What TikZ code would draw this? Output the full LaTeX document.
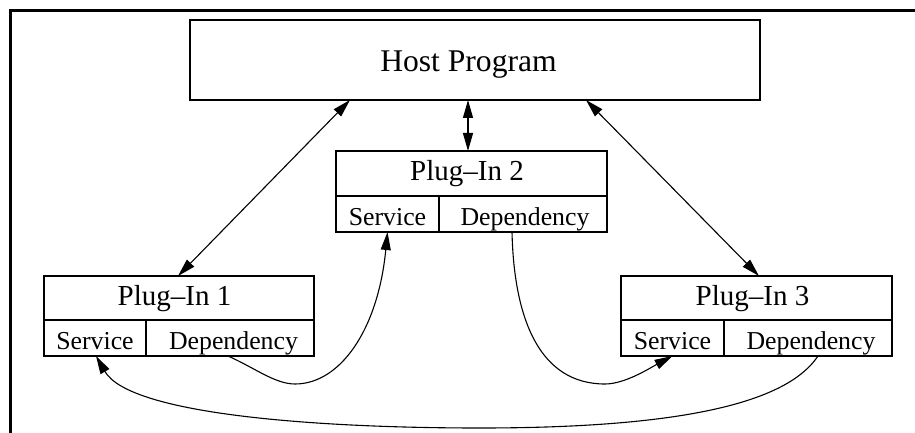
\documentclass[tikz,border=0pt]{standalone}
\usepackage{fontspec}
\setmainfont{Liberation Serif}
\usetikzlibrary{arrows.meta,calc}
\begin{document}
\begin{tikzpicture}[x=0.5pt,y=-0.5pt,
  box/.style={draw, rectangle, inner sep=0pt, outer sep=0pt, line width=0.55pt},
  lbl/.style={anchor=base, inner sep=0pt, outer sep=0pt},
  title/.style={lbl, font=\fontsize{14.5pt}{17pt}\selectfont},
  cell/.style={lbl, font=\fontsize{12.9pt}{15pt}\selectfont},
  link/.style={line width=0.55pt},
  >={Triangle[length=9pt,width=5pt]}]
\useasboundingbox (0,0) rectangle (915,433);
% frame
\draw[line width=1.5pt, line join=miter] (10.5,433) -- (10.5,10.5) -- (915,10.5);

% host program
\node[box, minimum width=285pt, minimum height=40pt] (host) at (475,60) {};
\node[lbl, font=\fontsize{15.8pt}{18pt}\selectfont] (hostlbl) at (468.5,72) {Host Program};

% plug-in 2
\node[box, minimum width=135.5pt, minimum height=22.5pt] (p2t) at (471.5,173.5) {};
\node[box, minimum width=51.5pt, minimum height=18pt] (p2s) at (387.5,214) {};
\node[box, minimum width=84pt, minimum height=18pt] (p2d) at (523,214) {};
\node[title] (p2lbl) at (467,180) {Plug–In 2};
\node[cell] (p2slbl) at (387.5,225) {Service};
\node[cell] (p2dlbl) at (525,225) {Dependency};

% plug-in 1
\node[box, minimum width=135pt, minimum height=22pt] (p1t) at (179,298) {};
\node[box, minimum width=51pt, minimum height=18pt] (p1s) at (95,338) {};
\node[box, minimum width=84pt, minimum height=18pt] (p1d) at (230,338) {};
\node[title] (p1lbl) at (174.5,305) {Plug–In 1};
\node[cell] (p1slbl) at (95,349) {Service};
\node[cell] (p1dlbl) at (233.5,349) {Dependency};

% plug-in 3
\node[box, minimum width=135.5pt, minimum height=22pt] (p3t) at (756.5,298) {};
\node[box, minimum width=51.5pt, minimum height=18pt] (p3s) at (672.5,338) {};
\node[box, minimum width=84pt, minimum height=18pt] (p3d) at (808,338) {};
\node[title] (p3lbl) at (752.5,305) {Plug–In 3};
\node[cell] (p3slbl) at (672.5,349) {Service};
\node[cell] (p3dlbl) at (811,349) {Dependency};

% host <-> plug-ins
\draw[link,<->] ([xshift=80pt]host.south west) -- ([xshift=-0.5pt]p1t.north);
\draw[link,<->] ([xshift=-1.75pt]p2t.north |- host.south) -- ([xshift=-1.75pt]p2t.north);
\draw[link,<->] ([xshift=198pt]host.south west) -- ([xshift=1.25pt]p3t.north);

% dependency -> service
\draw[link,->] ([xshift=-1pt]p1d.south) .. controls (255,368) and (275,384) .. (295,384)
  .. controls (340,384) and (378,330) .. (p2s.south);
\draw[link,->] ([xshift=-5.5pt]p2d.south) .. controls (514,320) and (540,384) .. (605,384)
  .. controls (625,384) and (650,368) .. (p3s.south);
\draw[link,->] ([xshift=5pt]p3d.south) .. controls (790,398) and (700,428) .. (480,428)
  .. controls (320,428) and (130,415) .. ([xshift=0.5pt]p1s.south);
\end{tikzpicture}
\end{document}
